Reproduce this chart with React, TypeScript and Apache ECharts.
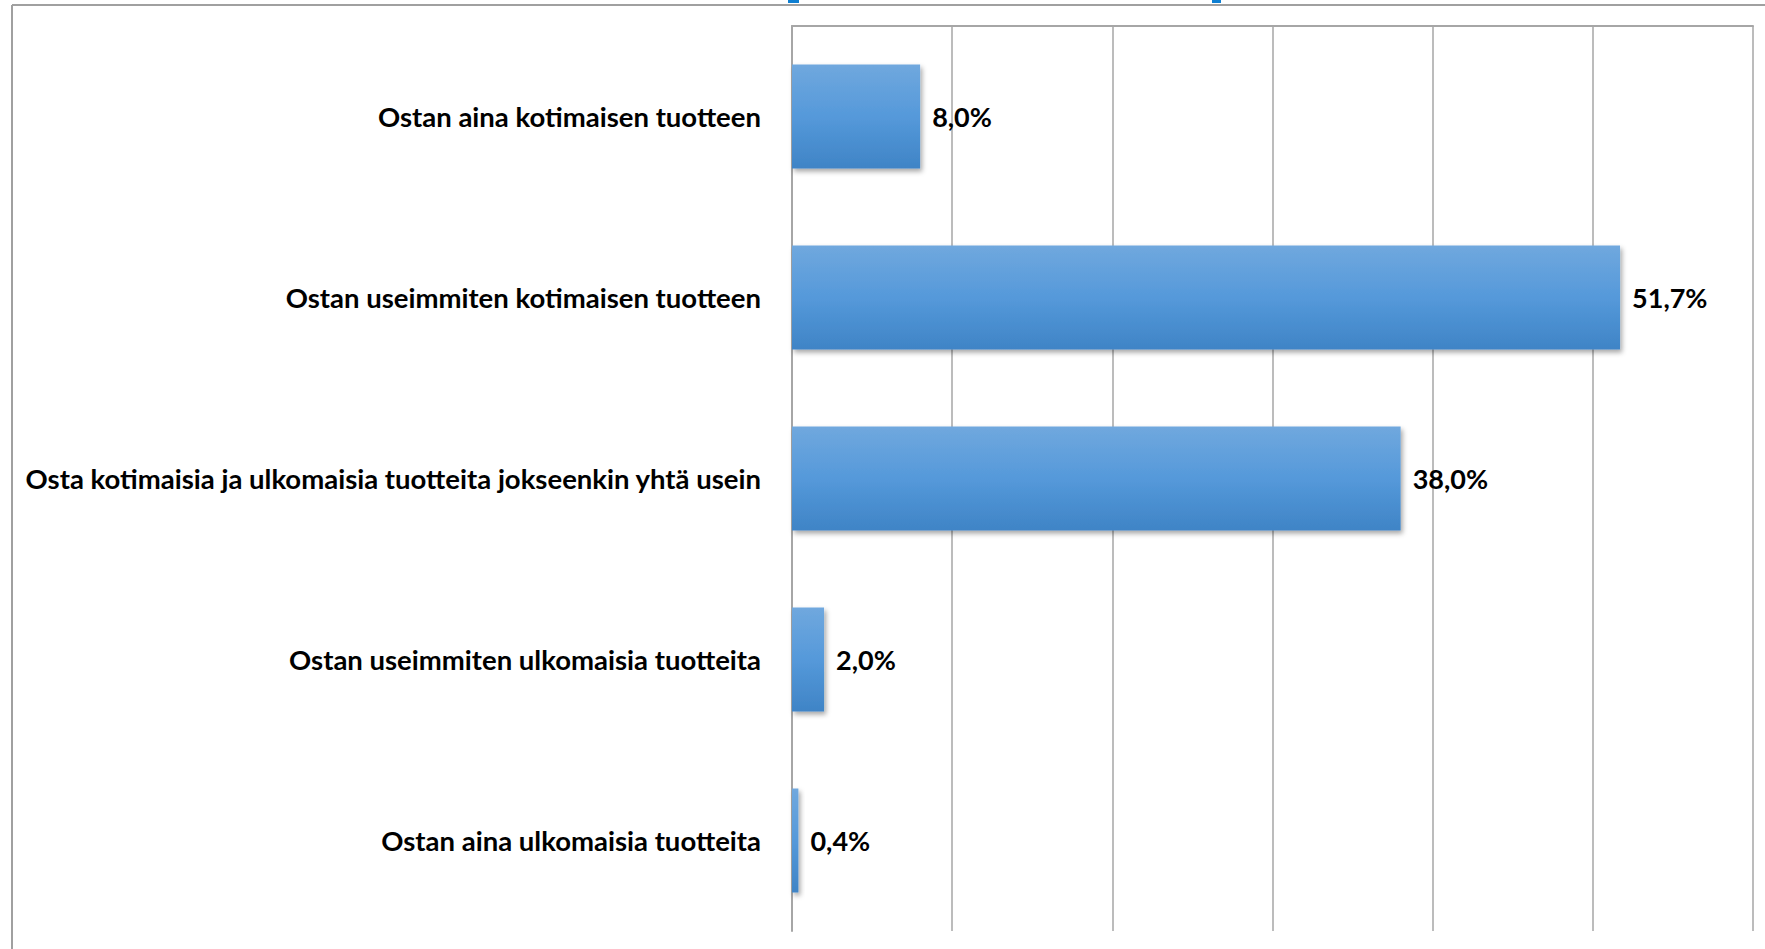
import React, { useEffect, useRef } from "react";
import * as echarts from "echarts";

const categories = [
  "Ostan aina kotimaisen tuotteen",
  "Ostan useimmiten kotimaisen tuotteen",
  "Osta kotimaisia ja ulkomaisia tuotteita jokseenkin yhtä usein",
  "Ostan useimmiten ulkomaisia tuotteita",
  "Ostan aina ulkomaisia tuotteita",
];
const values = [8.0, 51.7, 38.0, 2.0, 0.4];
const axisMin = 0;
const axisMax = 60;
const axisInterval = 10;

export default function App() {
  const ref = useRef<HTMLDivElement>(null);
  useEffect(() => {
    if (!ref.current) return;
    const chart = echarts.init(ref.current, null, { renderer: "svg" });
    const font = "Lato, 'Open Sans', sans-serif";
    chart.setOption({
      animation: false,
      backgroundColor: "#ffffff",
      grid: { left: 792, top: 26, right: 12, bottom: 18, containLabel: false },
      xAxis: {
        type: "value",
        position: "top",
        min: axisMin,
        max: axisMax,
        interval: axisInterval,
        axisLabel: { show: false },
        axisTick: { show: false },
        axisLine: { show: true, lineStyle: { color: "#a6a6a6", width: 2 } },
        splitLine: { show: true, lineStyle: { color: "#a6a6a6", width: 1.5 } },
      },
      yAxis: {
        type: "category",
        inverse: true,
        data: categories,
        axisTick: { show: false },
        axisLine: { show: true, lineStyle: { color: "#a6a6a6", width: 2 } },
        axisLabel: {
          margin: 31,
          color: "#000000",
          fontFamily: font,
          fontWeight: "bold",
          fontSize: 27.5,
        },
      },
      series: [
        {
          type: "bar",
          data: values,
          barWidth: 104,
          itemStyle: {
            color: new echarts.graphic.LinearGradient(0, 0, 0, 1, [
              { offset: 0, color: "#70a8de" },
              { offset: 0.5, color: "#5599da" },
              { offset: 1, color: "#3f84c6" },
            ]),
            shadowColor: "rgba(0,0,0,0.35)",
            shadowBlur: 5,
            shadowOffsetX: 2,
            shadowOffsetY: 3,
          },
          label: {
            show: true,
            position: "right",
            distance: 12,
            color: "#000000",
            fontFamily: font,
            fontWeight: "bold",
            fontSize: 27,
            formatter: (p: any) => p.value.toFixed(1).replace(".", ",") + "%",
          },
        },
      ],
      graphic: [
        { type: "line", shape: { x1: 12, y1: 5, x2: 1765, y2: 5 }, style: { stroke: "#a0a0a0", lineWidth: 2 } },
        { type: "line", shape: { x1: 12, y1: 5, x2: 12, y2: 949 }, style: { stroke: "#a0a0a0", lineWidth: 2 } },
        { type: "rect", shape: { x: 788, y: 0, width: 11, height: 3 }, style: { fill: "#0e7fd2" } },
        { type: "rect", shape: { x: 1212, y: 0, width: 9, height: 3 }, style: { fill: "#0e7fd2" } },
      ],
    });
    return () => chart.dispose();
  }, []);
  return (
    <div
      ref={ref}
      style={{ position: "absolute", left: 0, top: 0, width: 1765, height: 949 }}
    />
  );
}
